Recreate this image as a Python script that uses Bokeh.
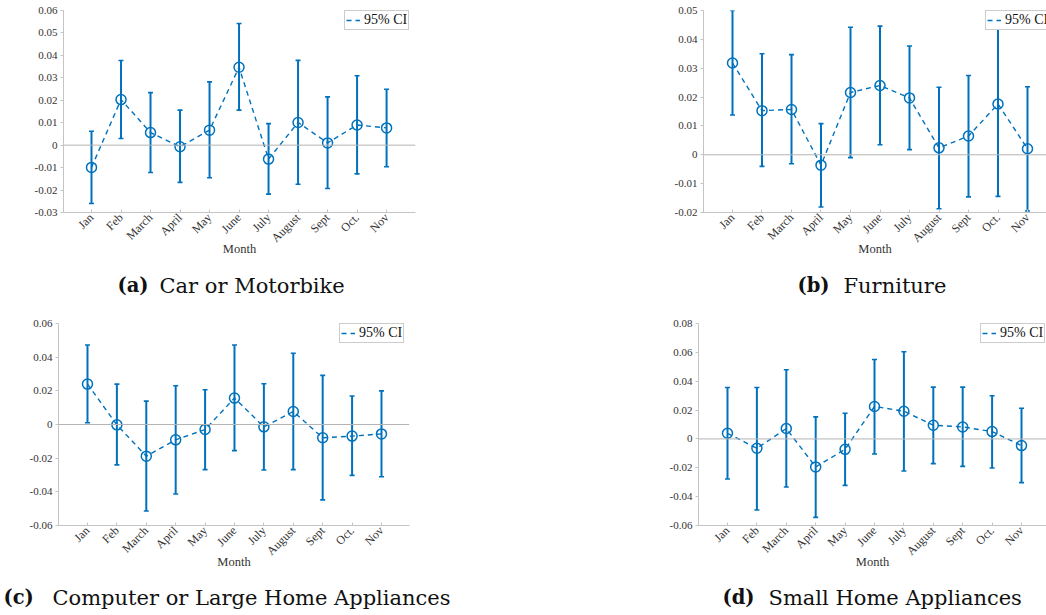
import numpy as np
from bokeh.plotting import figure
from bokeh.layouts import column, row
from bokeh.models import Spacer, FixedTicker, Span, Legend, LegendItem, ColumnDataSource
from bokeh.embed import file_html
from bokeh.resources import INLINE
from bokeh.core.properties import value

months = ["Jan", "Feb", "March", "April", "May", "June", "July", "August", "Sept", "Oct.", "Nov"]
month_idx = list(range(1, 12))

car_mean = [-0.0099, 0.0203, 0.0056, -0.0007, 0.0067, 0.0347, -0.0062, 0.0101, 0.0010, 0.0090, 0.0077]
car_upper = [0.0062, 0.0377, 0.0234, 0.0156, 0.0282, 0.0542, 0.0096, 0.0378, 0.0215, 0.0309, 0.0249]
car_lower = [-0.0260, 0.0030, -0.0122, -0.0166, -0.0145, 0.0156, -0.0218, -0.0174, -0.0193, -0.0128, -0.0096]

fur_mean = [0.0318, 0.0153, 0.0157, -0.0036, 0.0216, 0.0240, 0.0197, 0.0024, 0.0065, 0.0176, 0.0021]
fur_upper = [0.0500, 0.0350, 0.0347, 0.0108, 0.0442, 0.0446, 0.0377, 0.0234, 0.0275, 0.0500, 0.0236]
fur_lower = [0.0138, -0.0040, -0.0031, -0.0181, -0.0010, 0.0035, 0.0018, -0.0187, -0.0146, -0.0144, -0.0195]

comp_mean = [0.0240, -0.0002, -0.0188, -0.0091, -0.0030, 0.0157, -0.0014, 0.0077, -0.0079, -0.0069, -0.0056]
comp_upper = [0.0472, 0.0240, 0.0139, 0.0230, 0.0206, 0.0472, 0.0242, 0.0423, 0.0292, 0.0169, 0.0200]
comp_lower = [0.0010, -0.0240, -0.0514, -0.0413, -0.0268, -0.0155, -0.0270, -0.0268, -0.0448, -0.0302, -0.0310]

small_mean = [0.0039, -0.0065, 0.0072, -0.0194, -0.0072, 0.0225, 0.0192, 0.0095, 0.0083, 0.0051, -0.0046]
small_upper = [0.0356, 0.0356, 0.0479, 0.0153, 0.0178, 0.0551, 0.0604, 0.0359, 0.0359, 0.0299, 0.0213]
small_lower = [-0.0278, -0.0493, -0.0333, -0.0544, -0.0322, -0.0104, -0.0222, -0.0171, -0.0190, -0.0201, -0.0303]

car_yticks = [-0.03, -0.02, -0.01, 0, 0.01, 0.02, 0.03, 0.04, 0.05, 0.06]
fur_yticks = [-0.02, -0.01, 0, 0.01, 0.02, 0.03, 0.04, 0.05]
comp_yticks = [-0.06, -0.04, -0.02, 0, 0.02, 0.04, 0.06]
small_yticks = [-0.06, -0.04, -0.02, 0, 0.02, 0.04, 0.06, 0.08]

legend_label = "95% CI"
x_title = "Month"
captions_bold = ["(a)", "(b)", "(c)", "(d)"]
captions_text = ["Car or Motorbike", "Furniture", "Computer or Large Home Appliances", "Small Home Appliances"]

BLUE = "#0072BD"
SERIF = "Liberation Serif"


def tick_label(v):
    if v == 0:
        return "0"
    return ("%g" % v)


def panel(mean, lower, upper, yticks, xr, width, height, left, right, top, bottom, legend_xy):
    p = figure(width=width, height=height, x_range=xr, y_range=(yticks[0], yticks[-1]),
               output_backend="svg", toolbar_location=None,
               min_border_left=left, min_border_right=right, min_border_top=top,
               min_border_bottom=bottom)
    p.outline_line_color = None
    p.xgrid.visible = False
    p.ygrid.visible = False
    p.background_fill_color = "white"

    src = ColumnDataSource(dict(x=month_idx, m=mean, lo=lower, hi=upper))

    zero = Span(location=0, dimension="width", line_color="#b4b4b4", line_width=1)
    p.add_layout(zero)

    ln = p.line("x", "m", source=src, line_color=BLUE, line_width=1.4, line_dash="5 4")
    p.segment(x0="x", y0="lo", x1="x", y1="hi", source=src, line_color=BLUE, line_width=2)
    p.scatter("x", "lo", source=src, marker="dash", size=5, line_color=BLUE, line_width=1.6)
    p.scatter("x", "hi", source=src, marker="dash", size=5, line_color=BLUE, line_width=1.6)
    p.scatter("x", "m", source=src, marker="circle", size=10, fill_color=None,
              line_color=BLUE, line_width=1.5)

    dummy = ColumnDataSource(dict(x=[], y=[]))
    bar = p.scatter("x", "y", source=dummy, marker="dash", angle=np.pi / 2, size=10,
                    line_color=BLUE, line_width=2)
    leg = Legend(items=[LegendItem(label=legend_label, renderers=[ln, bar])],
                 location=legend_xy, label_text_font=SERIF, label_text_font_size="14px",
                 label_text_color="#111111", label_text_baseline="middle",
                 glyph_width=14, glyph_height=12, label_height=12, label_standoff=4,
                 padding=1, spacing=0, margin=0,
                 border_line_color="#9a9a9a", border_line_width=1,
                 background_fill_color="white", background_fill_alpha=1)
    p.add_layout(leg)

    for ax in (p.xaxis[0], p.yaxis[0]):
        ax.axis_line_color = "#c4c4c4"
        ax.major_tick_line_color = "#c4c4c4"
        ax.minor_tick_line_color = None
        ax.major_label_text_font = SERIF
        ax.major_label_text_color = "#333333"

    p.yaxis.major_label_text_font_size = "11px"
    p.yaxis.ticker = FixedTicker(ticks=yticks)
    p.yaxis.major_label_overrides = {v: tick_label(v) for v in yticks}
    p.yaxis.major_tick_out = 3
    p.yaxis.major_tick_in = 0
    p.yaxis.major_label_standoff = 3

    p.xaxis.major_label_text_font_size = "12px"
    p.xaxis.ticker = FixedTicker(ticks=month_idx)
    p.xaxis.major_label_overrides = {i: m for i, m in zip(month_idx, months)}
    p.xaxis.major_label_orientation = np.pi / 4
    p.xaxis.major_tick_out = 0
    p.xaxis.major_tick_in = 3
    p.xaxis.major_label_standoff = 3
    p.xaxis.axis_label = x_title
    p.xaxis.axis_label_text_font = SERIF
    p.xaxis.axis_label_text_font_style = "normal"
    p.xaxis.axis_label_text_font_size = "12.5px"
    p.xaxis.axis_label_text_color = "#333333"
    p.xaxis.axis_label_standoff = -11
    return p


def caption(h, items):
    c = figure(width=1046, height=h, x_range=(0, 1046), y_range=(0, h),
               output_backend="svg", toolbar_location=None,
               min_border_left=0, min_border_right=0, min_border_top=0, min_border_bottom=0)
    c.axis.visible = False
    c.grid.visible = False
    c.outline_line_color = None
    for xb, xt, y, b, t in items:
        c.text(x=[xb], y=[y], text=[b], text_font=value("DejaVu Serif"), text_font_style="bold",
               text_font_size="19.5px", text_baseline="middle", text_align="left", text_color="#111111")
        c.text(x=[xt], y=[y], text=[t], text_font=value("DejaVu Serif"),
               text_font_size="21px", text_baseline="middle", text_align="left", text_color="#111111")
    return c


pa = panel(car_mean, car_lower, car_upper, car_yticks, (0.051, 11.98), 420, 265, 63, 5, 10, 53, (281, 182))
pb = panel(fur_mean, fur_lower, fur_upper, fur_yticks, (0.017, 11.644), 406, 265, 63, 0, 10, 53, (282, 182))
pc = panel(comp_mean, comp_lower, comp_upper, comp_yticks, (0.014, 11.953), 414, 270, 58, 5, 13, 55, (281, 182))
pd_ = panel(small_mean, small_lower, small_upper, small_yticks, (0.014, 11.85), 406, 270, 58, 0, 13, 55, (282, 182))

cap1 = caption(45, [(117, 159, 25, captions_bold[0], captions_text[0]),
                    (797, 843, 25, captions_bold[1], captions_text[1])])
cap2 = caption(35, [(3, 52, 18, captions_bold[2], captions_text[2]),
                    (722, 768, 18, captions_bold[3], captions_text[3])])

layout = column(row(pa, Spacer(width=220, height=265), pb),
                cap1,
                row(pc, Spacer(width=226, height=270), pd_),
                cap2)

with open("out.html", "w") as f:
    f.write(file_html(layout, INLINE))
